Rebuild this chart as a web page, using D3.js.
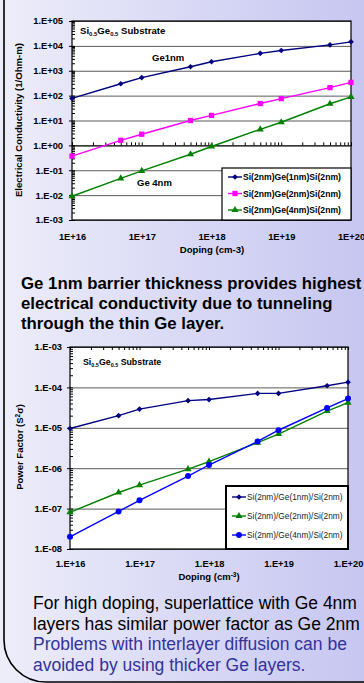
<!DOCTYPE html>
<html>
<head>
<meta charset="utf-8">
<script src="https://cdn.jsdelivr.net/npm/d3@7"></script>
<style>
  html, body { margin: 0; padding: 0; overflow: hidden; }
  svg { display: block; font-family: "Liberation Sans", Arial, sans-serif; }
</style>
</head>
<body>
<div id="chart"></div>
<script>
// page size
const width = 364;
const height = 683;

// doping levels (cm-3), shared by both charts
const doping = [1e16, 5e16, 1e17, 5e17, 1e18, 5e18, 1e19, 5e19, 1e20];

// electrical conductivity (1/Ohm-m)
const cond1nm = [78, 300, 530, 1450, 2300, 5000, 6500, 11000, 14500];
const cond2nm = [0.37, 1.6, 2.8, 10, 16, 48, 76, 210, 340];
const cond4nm = [0.009, 0.047, 0.094, 0.44, 0.9, 4.4, 8.5, 47, 89];

// power factor (S^2 sigma)
const pf1nm = [9.6e-6, 2.0e-5, 2.9e-5, 4.7e-5, 5.0e-5, 7.1e-5, 7.1e-5, 1.1e-4, 1.35e-4];
const pf2nm = [8.1e-8, 2.5e-7, 3.8e-7, 9.5e-7, 1.45e-6, 4.3e-6, 7.0e-6, 2.6e-5, 4.2e-5];
const pf4nm = [2.0e-8, 8.5e-8, 1.6e-7, 6.4e-7, 1.2e-6, 4.6e-6, 8.7e-6, 3.1e-5, 5.3e-5];

// tick values and labels
const condTicks = [1e5, 1e4, 1e3, 1e2, 1e1, 1e0, 1e-1, 1e-2, 1e-3];
const condLabels = ['1.E+05', '1.E+04', '1.E+03', '1.E+02', '1.E+01', '1.E+00', '1.E-01', '1.E-02', '1.E-03'];
const pfTicks = [1e-3, 1e-4, 1e-5, 1e-6, 1e-7, 1e-8];
const pfLabels = ['1.E-03', '1.E-04', '1.E-05', '1.E-06', '1.E-07', '1.E-08'];
const dopTicks = [1e16, 1e17, 1e18, 1e19, 1e20];
const dopLabelsTop = ['1E+16', '1E+17', '1E+18', '1E+19', '1E+20'];
const dopLabelsBottom = ['1.E+16', '1.E+17', '1.E+18', '1.E+19', '1.E+20'];

const condNames = ['Si(2nm)Ge(1nm)Si(2nm)', 'Si(2nm)Ge(2nm)Si(2nm)', 'Si(2nm)Ge(4nm)Si(2nm)'];
const pfNames = ['Si(2nm)/Ge(1nm)/Si(2nm)', 'Si(2nm)/Ge(2nm)/Si(2nm)', 'Si(2nm)/Ge(4nm)/Si(2nm)'];

const text1 = ['Ge 1nm barrier thickness provides highest',
               'electrical conductivity due to tunneling',
               'through the thin Ge layer.'];
const text2 = ['For high doping, superlattice with Ge 4nm',
               'layers has similar power factor as Ge 2nm',
               'Problems with interlayer diffusion can be',
               'avoided by using thicker Ge layers.'];

const svg = d3.select('#chart')
    .append('svg')
    .attr('width', width)
    .attr('height', height);

// background gradient
const grad = svg.append('defs').append('linearGradient')
    .attr('id', 'bg')
    .attr('x1', '0%').attr('x2', '100%').attr('y1', '0%').attr('y2', '0%');
grad.append('stop').attr('offset', '0%').attr('stop-color', '#ededfa');
grad.append('stop').attr('offset', '100%').attr('stop-color', '#c6c6f1');

svg.append('rect')
    .attr('width', width)
    .attr('height', height)
    .attr('fill', 'url(#bg)');

// rounded frame, only the left side and bottom left corner are visible
svg.append('rect')
    .attr('x', 4)
    .attr('y', -60)
    .attr('width', 420)
    .attr('height', 742)
    .attr('rx', 42)
    .attr('fill', 'none')
    .attr('stroke', '#000')
    .attr('stroke-width', 1.6);

// minor tick values for a log range
function minors(lo, hi) {
    const out = [];
    for (let e = lo; e < hi; e++) {
        for (let k = 1; k < 10; k++) out.push(k * Math.pow(10, e));
    }
    out.push(Math.pow(10, hi));
    return out;
}

function styleAxis(g, size, weight) {
    g.select('.domain').remove();
    g.selectAll('.tick line').attr('stroke', '#000');
    g.selectAll('.tick text')
        .attr('fill', '#000')
        .style('font-size', size + 'px')
        .style('font-weight', weight);
}

function drawChart(cfg) {
    const x = d3.scaleLog().domain([1e16, 1e20]).range([cfg.left, cfg.right]);
    const y = d3.scaleLog().domain(cfg.yDomain).range([cfg.bottom, cfg.top]);
    const w = cfg.right - cfg.left;
    const h = cfg.bottom - cfg.top;

    svg.append('rect')
        .attr('x', cfg.left).attr('y', cfg.top)
        .attr('width', w).attr('height', h)
        .attr('fill', '#fff');

    // gridlines
    svg.append('g')
        .attr('transform', `translate(${cfg.left},0)`)
        .call(d3.axisLeft(y).tickValues(cfg.yTicks).tickSize(-w).tickFormat(''))
        .call(g => g.select('.domain').remove())
        .call(g => g.selectAll('.tick line').attr('stroke', '#5a5a5a').attr('stroke-width', 1));

    // y minor ticks, inside
    const yMinor = minors(Math.round(Math.log10(cfg.yDomain[0])), Math.round(Math.log10(cfg.yDomain[1])));
    svg.append('g')
        .attr('transform', `translate(${cfg.left},0)`)
        .call(d3.axisRight(y).tickValues(yMinor).tickSize(3).tickFormat(''))
        .call(g => g.select('.domain').remove())
        .call(g => g.selectAll('.tick line').attr('stroke', '#000'));

    // y labels
    svg.append('g')
        .attr('transform', `translate(${cfg.left},0)`)
        .call(d3.axisLeft(y).tickValues(cfg.yTicks).tickSize(3).tickPadding(cfg.yPad)
            .tickFormat((d, i) => cfg.yLabels[i]))
        .call(g => styleAxis(g, 9.3, 'bold'));

    // x labels under the plot
    svg.append('g')
        .attr('transform', `translate(0,${cfg.bottom})`)
        .call(d3.axisBottom(x).tickValues(dopTicks).tickSize(0).tickPadding(cfg.xPad)
            .tickFormat((d, i) => cfg.xLabels[i]))
        .call(g => styleAxis(g, 9.3, 'bold'));

    // x axis line with minor ticks
    const xMinor = minors(16, 20);
    if (cfg.xAxisAt === 'top') {
        svg.append('g')
            .attr('transform', `translate(0,${cfg.top})`)
            .call(d3.axisBottom(x).tickValues(xMinor).tickSize(3).tickFormat(''))
            .call(g => g.selectAll('.tick line').attr('stroke', '#000'))
            .call(g => g.select('.domain').remove());
    } else {
        svg.append('g')
            .attr('transform', `translate(0,${y(cfg.xAxisAt)})`)
            .call(d3.axisTop(x).tickValues(xMinor).tickSize(3).tickFormat(''))
            .call(g => g.selectAll('.tick line').attr('stroke', '#000'))
            .call(g => g.select('.domain').attr('stroke', '#000'));
    }

    // frame
    svg.append('rect')
        .attr('x', cfg.left).attr('y', cfg.top)
        .attr('width', w).attr('height', h)
        .attr('fill', 'none')
        .attr('stroke', '#000')
        .attr('stroke-width', 1.2);

    const line = d3.line().x((d, i) => x(doping[i])).y(d => y(d));

    cfg.series.forEach(s => {
        svg.append('path')
            .datum(s.values)
            .attr('fill', 'none')
            .attr('stroke', s.color)
            .attr('stroke-width', 1.4)
            .attr('d', line);
        svg.append('g').selectAll('path')
            .data(s.values)
            .join('path')
            .attr('d', d3.symbol().type(s.symbol).size(s.size))
            .attr('transform', (d, i) => `translate(${x(doping[i])},${y(d)}) rotate(${s.rotate || 0})`)
            .attr('fill', s.color);
    });

    // legend
    const lg = cfg.legend;
    svg.append('rect')
        .attr('x', lg.x).attr('y', lg.y)
        .attr('width', lg.w).attr('height', lg.h)
        .attr('fill', '#fff')
        .attr('stroke', '#000')
        .attr('stroke-width', lg.stroke);
    cfg.series.forEach((s, i) => {
        const yy = lg.rows[i];
        svg.append('line')
            .attr('x1', lg.x + 6).attr('x2', lg.x + 20)
            .attr('y1', yy).attr('y2', yy)
            .attr('stroke', s.color)
            .attr('stroke-width', 1.4);
        svg.append('path')
            .attr('d', d3.symbol().type(s.symbol).size(s.size))
            .attr('transform', `translate(${lg.x + 13},${yy}) rotate(${s.rotate || 0})`)
            .attr('fill', s.color);
        svg.append('text')
            .attr('x', lg.x + 21)
            .attr('y', yy)
            .attr('dy', '0.35em')
            .style('font-size', lg.font + 'px')
            .style('font-weight', lg.weight)
            .attr('fill', lg.color)
            .text(lg.names[i]);
    });
}

drawChart({
    left: 72, right: 351, top: 21, bottom: 220,
    yDomain: [1e-3, 1e5],
    yTicks: condTicks, yLabels: condLabels, yPad: 6,
    xLabels: dopLabelsTop, xPad: 13.5,
    xAxisAt: 1,
    series: [
        {values: cond1nm, color: '#000080', symbol: d3.symbolSquare, size: 16, rotate: 45},
        {values: cond2nm, color: '#ff00ff', symbol: d3.symbolSquare, size: 28},
        {values: cond4nm, color: '#008000', symbol: d3.symbolTriangle, size: 22}
    ],
    legend: {x: 222, y: 168, w: 129, h: 52, rows: [177, 193.5, 210], stroke: 1.2,
             names: condNames, font: 8.6, weight: 'bold', color: '#000'}
});

drawChart({
    left: 70, right: 348, top: 347, bottom: 549,
    yDomain: [1e-8, 1e-3],
    yTicks: pfTicks, yLabels: pfLabels, yPad: 5,
    xLabels: dopLabelsBottom, xPad: 11.5,
    xAxisAt: 'top',
    series: [
        {values: pf1nm, color: '#000080', symbol: d3.symbolSquare, size: 16, rotate: 45},
        {values: pf2nm, color: '#008000', symbol: d3.symbolTriangle, size: 22},
        {values: pf4nm, color: '#0000ff', symbol: d3.symbolCircle, size: 28}
    ],
    legend: {x: 226, y: 486, w: 122, h: 63, rows: [497, 516, 535], stroke: 2,
             names: pfNames, font: 8.3, weight: 'normal', color: '#222'}
});

// substrate notes
function substrate(x, y, size) {
    const t = svg.append('text')
        .attr('x', x).attr('y', y)
        .attr('dy', '0.35em')
        .style('font-size', size + 'px')
        .style('font-weight', 'bold');
    t.append('tspan').text('Si');
    t.append('tspan').attr('dy', 2).style('font-size', (size * 0.62) + 'px').text('0.5');
    t.append('tspan').attr('dy', -2).text('Ge');
    t.append('tspan').attr('dy', 2).style('font-size', (size * 0.62) + 'px').text('0.5');
    t.append('tspan').attr('dy', -2).text(' Substrate');
}
substrate(80, 31, 9.6);
substrate(83, 362, 8.8);

svg.append('text').attr('x', 152).attr('y', 58).attr('dy', '0.35em')
    .style('font-size', '9.5px').style('font-weight', 'bold').text('Ge1nm');
svg.append('text').attr('x', 137).attr('y', 183).attr('dy', '0.35em')
    .style('font-size', '9.5px').style('font-weight', 'bold').text('Ge 4nm');

// axis titles
svg.append('text')
    .attr('transform', 'translate(19,120) rotate(-90)')
    .attr('text-anchor', 'middle')
    .attr('dy', '0.35em')
    .style('font-size', '9.6px').style('font-weight', 'bold')
    .text('Electrical Conductivity (1/Ohm-m)');

svg.append('text')
    .attr('x', 212).attr('y', 250)
    .attr('text-anchor', 'middle').attr('dy', '0.35em')
    .style('font-size', '9.6px').style('font-weight', 'bold')
    .text('Doping (cm-3)');

const pfTitle = svg.append('text')
    .attr('transform', 'translate(20,447) rotate(-90)')
    .attr('text-anchor', 'middle')
    .attr('dy', '0.35em')
    .style('font-size', '9.5px').style('font-weight', 'bold');
pfTitle.append('tspan').text('Power Factor (S');
pfTitle.append('tspan').attr('dy', -3.5).style('font-size', '6.5px').text('2');
pfTitle.append('tspan').attr('dy', 3.5).text('\u03c3)');

const dopTitle = svg.append('text')
    .attr('x', 209).attr('y', 577)
    .attr('text-anchor', 'middle').attr('dy', '0.35em')
    .style('font-size', '9.5px').style('font-weight', 'bold');
dopTitle.append('tspan').text('Doping (cm');
dopTitle.append('tspan').attr('dy', -3.5).style('font-size', '6.5px').text('-3');
dopTitle.append('tspan').attr('dy', 3.5).text(')');

// paragraphs
svg.append('g').selectAll('text')
    .data(text1)
    .join('text')
    .attr('x', 21)
    .attr('y', (d, i) => 289 + i * 20)
    .style('font-size', '16.8px')
    .style('font-weight', 'bold')
    .attr('fill', '#000')
    .text(d => d);

svg.append('g').selectAll('text')
    .data(text2)
    .join('text')
    .attr('x', 33)
    .attr('y', (d, i) => 609 + i * 20.7)
    .style('font-size', '17.5px')
    .attr('fill', (d, i) => i < 2 ? '#000' : '#333399')
    .text(d => d);
</script>
</body>
</html>
